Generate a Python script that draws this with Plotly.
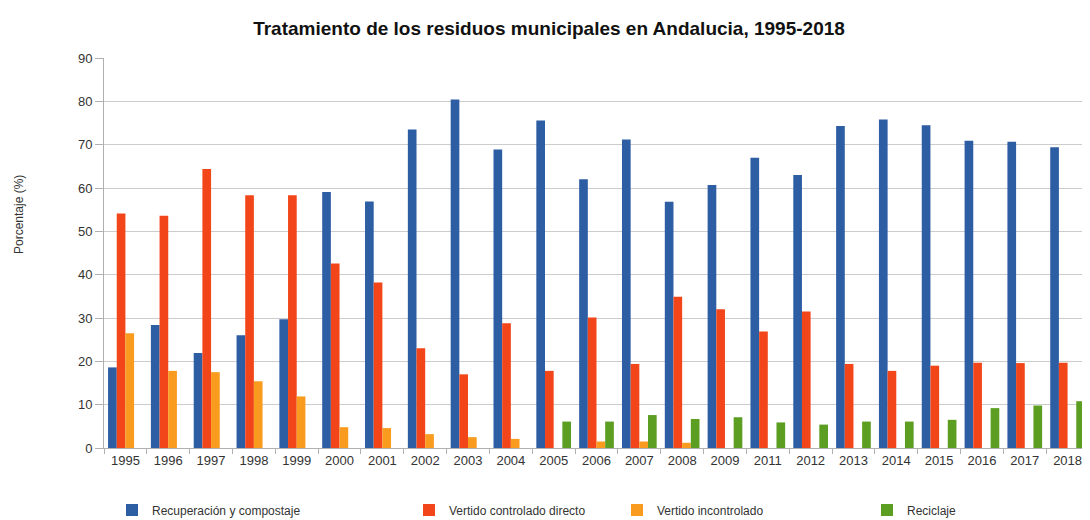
import plotly.graph_objects as go

years = ["1995", "1996", "1997", "1998", "1999", "2000", "2001", "2002", "2003", "2004",
         "2005", "2006", "2007", "2008", "2009", "2011", "2012", "2013", "2014", "2015",
         "2016", "2017", "2018"]

recuperacion = [18.6, 28.4, 21.9, 26.0, 29.7, 59.1, 56.9, 73.5, 80.4, 68.9,
                75.6, 62.0, 71.2, 56.8, 60.7, 67.0, 63.0, 74.3, 75.8, 74.5,
                70.9, 70.7, 69.4]
vertido_controlado = [54.1, 53.6, 64.4, 58.3, 58.3, 42.6, 38.2, 23.0, 17.0, 28.8,
                      17.8, 30.1, 19.4, 34.9, 32.0, 26.9, 31.5, 19.4, 17.8, 19.0,
                      19.7, 19.6, 19.7]
vertido_incontrolado = [26.5, 17.8, 17.5, 15.4, 11.9, 4.8, 4.6, 3.2, 2.5, 2.1,
                        0.0, 1.5, 1.5, 1.2, 0.0, 0.0, 0.0, 0.0, 0.0, 0.0,
                        0.0, 0.0, 0.0]
reciclaje = [0.0, 0.0, 0.0, 0.0, 0.0, 0.0, 0.0, 0.0, 0.0, 0.0,
             6.1, 6.1, 7.6, 6.7, 7.1, 5.9, 5.4, 6.1, 6.1, 6.5,
             9.2, 9.8, 10.8]

series = [
    ("Recuperación y compostaje", recuperacion, "#2d5da3", "legend"),
    ("Vertido controlado directo", vertido_controlado, "#f2461a", "legend2"),
    ("Vertido incontrolado", vertido_incontrolado, "#f99b1e", "legend3"),
    ("Reciclaje", reciclaje, "#5b9e21", "legend4"),
]
# legend left edges in figure pixels
legend_px = [104, 401, 609, 859]

fig = go.Figure()
for name, vals, col, lg in series:
    fig.add_trace(go.Bar(x=years, y=vals, name=name, marker_color=col,
                         marker_line_width=0, legend=lg))

W, H = 1082, 512
legend_common = dict(orientation="h", xref="container", yref="container",
                     y=(H - 502) / H, yanchor="middle", xanchor="left",
                     font=dict(size=12, color="#333333"), bgcolor="rgba(0,0,0,0)")
fig.update_layout(
    width=W, height=H,
    margin=dict(l=96, r=1, t=50, b=72),
    paper_bgcolor="white", plot_bgcolor="white",
    barmode="group", bargap=0.19, bargroupgap=0,
    font=dict(family="Liberation Sans, Arial, sans-serif", color="#333333", size=12),
    title=dict(text="<b>Tratamiento de los residuos municipales en Andalucia, 1995-2018</b>",
               x=0.5, xanchor="center", y=1 - 20 / H, yanchor="middle",
               font=dict(size=19, color="#111111")),
    legend=dict(x=legend_px[0] / W, **legend_common),
    legend2=dict(x=legend_px[1] / W, **legend_common),
    legend3=dict(x=legend_px[2] / W, **legend_common),
    legend4=dict(x=legend_px[3] / W, **legend_common),
    showlegend=True,
    annotations=[dict(text="Porcentaje (%)", textangle=-90, xref="paper", yref="paper",
                      x=(19 - 8 - 96) / 985, y=(440 - (215 - 8)) / 390,
                      xanchor="center", yanchor="middle", showarrow=False,
                      font=dict(size=12, color="#333333"))],
)
fig.update_xaxes(
    type="category", showgrid=False, showline=True, linecolor="#b0b0b0", linewidth=1,
    ticks="outside", ticklen=5, tickcolor="#b0b0b0", tickson="boundaries",
    tickfont=dict(size=13, color="#333333"),
)
fig.update_yaxes(
    range=[0, 90], dtick=10, showgrid=True, gridcolor="#cccccc", gridwidth=1,
    showline=True, linecolor="#b0b0b0", linewidth=1, zeroline=False,
    ticks="outside", ticklen=8, tickcolor="#b0b0b0",
    tickfont=dict(size=13, color="#333333"),
)
fig.write_html("out.html")
